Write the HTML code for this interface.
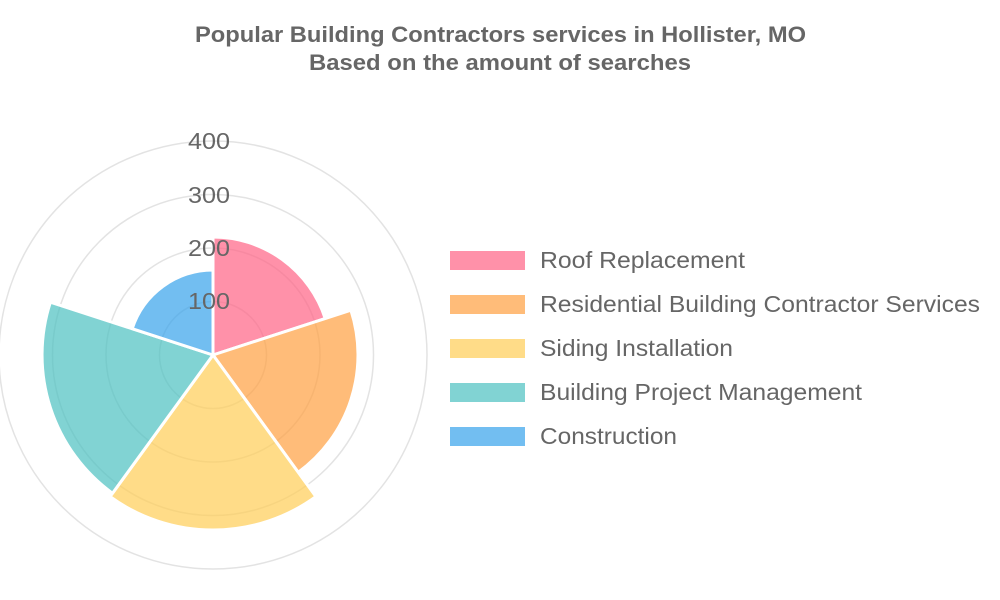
<!DOCTYPE html>
<html><head><meta charset="utf-8"><style>
html,body{margin:0;padding:0;background:#fff;}
svg{display:block;font-family:"Liberation Sans",Arial,sans-serif;}
</style></head><body>
<svg width="1000" height="600" viewBox="0 0 1000 600">
<text x="195" y="42" font-size="22" font-weight="bold" fill="#666" textLength="611" lengthAdjust="spacingAndGlyphs">Popular Building Contractors services in Hollister, MO</text>
<text x="309" y="70" font-size="22" font-weight="bold" fill="#666" textLength="382" lengthAdjust="spacingAndGlyphs">Based on the amount of searches</text>
<g fill="none" stroke="#e3e3e3" stroke-width="1.5">
<circle cx="213" cy="355" r="53.5"/>
<circle cx="213" cy="355" r="107"/>
<circle cx="213" cy="355" r="160.5"/>
<circle cx="213" cy="355" r="214"/>
</g>
<g stroke="#fff" stroke-width="3" stroke-linejoin="round">
<path fill="rgba(255,99,132,0.7)" d="M213,355 L213,237 A118,118 0 0 1 325.2,318.5 Z"/>
<path fill="rgba(255,159,64,0.7)" d="M213,355 L350.9,310.2 A145,145 0 0 1 298.2,472.3 Z"/>
<path fill="rgba(255,205,86,0.7)" d="M213,355 L315.9,496.6 A175,175 0 0 1 110.1,496.6 Z"/>
<path fill="rgba(75,192,192,0.7)" d="M213,355 L112.5,493.3 A171,171 0 0 1 50.4,302.2 Z"/>
<path fill="rgba(54,162,235,0.7)" d="M213,355 L132.2,328.7 A85,85 0 0 1 213,270 Z"/>
</g>
<g font-size="23" fill="#666">
<text x="188" y="309" textLength="42" lengthAdjust="spacingAndGlyphs">100</text>
<text x="188" y="256" textLength="42" lengthAdjust="spacingAndGlyphs">200</text>
<text x="188" y="203" textLength="42" lengthAdjust="spacingAndGlyphs">300</text>
<text x="188" y="149" textLength="42" lengthAdjust="spacingAndGlyphs">400</text>
</g>
<g font-size="23" fill="#666">
<rect x="450" y="251" width="75" height="19" fill="rgba(255,99,132,0.7)"/>
<text x="540" y="268" textLength="205" lengthAdjust="spacingAndGlyphs">Roof Replacement</text>
<rect x="450" y="295" width="75" height="19" fill="rgba(255,159,64,0.7)"/>
<text x="540" y="312" textLength="440" lengthAdjust="spacingAndGlyphs">Residential Building Contractor Services</text>
<rect x="450" y="339" width="75" height="19" fill="rgba(255,205,86,0.7)"/>
<text x="540" y="356" textLength="193" lengthAdjust="spacingAndGlyphs">Siding Installation</text>
<rect x="450" y="383" width="75" height="19" fill="rgba(75,192,192,0.7)"/>
<text x="540" y="400" textLength="322" lengthAdjust="spacingAndGlyphs">Building Project Management</text>
<rect x="450" y="427" width="75" height="19" fill="rgba(54,162,235,0.7)"/>
<text x="540" y="444" textLength="137" lengthAdjust="spacingAndGlyphs">Construction</text>
</g>
</svg>
</body></html>
